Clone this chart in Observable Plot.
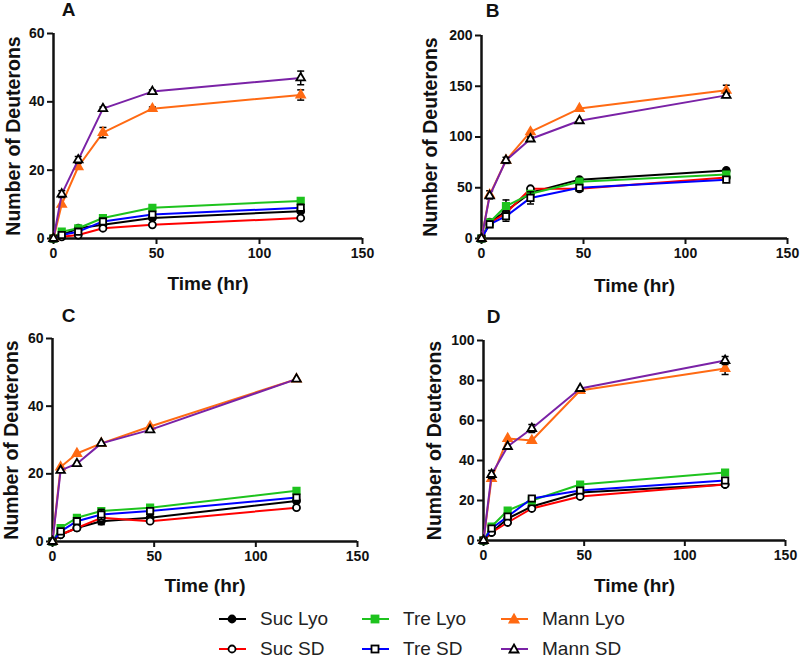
<!DOCTYPE html>
<html>
<head>
<meta charset="utf-8">
<script src="https://cdn.jsdelivr.net/npm/d3@7"></script>
<script src="https://cdn.jsdelivr.net/npm/@observablehq/plot@0.6"></script>
<style>
  body { margin: 0; background: white; }
  #wrap { position: relative; width: 800px; height: 660px; background: white; font-family: 'Liberation Sans', Arial, sans-serif; overflow: hidden; }
  .panel { position: absolute; width: 400px; height: 300px; }
  .leg { position: absolute; display: flex; align-items: center; font-size: 19px; line-height: 20px; height: 20px; color: #222; white-space: nowrap; }
  .leg svg { margin-right: 14px; display: block; }
</style>
</head>
<body>
<div id="wrap"></div>
<script>
// ---- data ----
const times = [0, 4, 12, 24, 48, 120];
const seriesNames = ["Suc Lyo", "Suc SD", "Tre Lyo", "Tre SD", "Mann Lyo", "Mann SD"];
const seriesColors = ["#000000", "#ff0000", "#1ec31e", "#0000ff", "#ff6a13", "#7a22a6"];
const seriesSymbols = ["circle", "circle", "square", "square", "triangle", "triangle"];
const seriesFills = ["#000000", "#ffffff", "#1ec31e", "#ffffff", "#ff6a13", "#ffffff"];
const seriesMarkerStrokes = ["#000000", "#000000", "#1ec31e", "#000000", "#ff6a13", "#000000"];

const valuesA = [
  [0, 1, 3, 4, 6, 8],
  [0, 0.5, 1, 3, 4, 6],
  [0, 2, 3, 6, 9, 11],
  [0, 1, 2, 5, 7, 9],
  [0, 10, 21, 31, 38, 42],
  [0, 13, 23, 38, 43, 47]
];
const errorsA = [
  [0, 0, 0, 0, 0.5, 0.5],
  [0, 0, 0, 0, 0, 0],
  [0, 0, 0, 0, 0, 0],
  [0, 0, 0, 0, 0, 1],
  [0, 0, 0, 1.5, 0.5, 1.5],
  [0, 1, 1, 0.5, 0.5, 2]
];
const valuesB = [
  [0, 16, 27, 45, 58, 67],
  [0, 15, 25, 49, 49, 60],
  [0, 16, 32, 44, 56, 63],
  [0, 14, 22, 40, 50, 58],
  [0, 43, 77, 105, 128, 146],
  [0, 42, 77, 98, 116, 141]
];
const errorsB = [
  [0, 0, 0, 0, 0, 2],
  [0, 0, 0, 0, 0, 0],
  [0, 0, 6, 0, 0, 0],
  [0, 3, 5, 6, 0, 0],
  [0, 4, 0, 0, 0, 5],
  [0, 0, 3, 2, 0, 2]
];
const valuesC = [
  [0, 2, 4, 6, 7, 12],
  [0, 2, 4, 7, 6, 10],
  [0, 4, 7, 9, 10, 15],
  [0, 3, 6, 8, 9, 13],
  [0, 22, 26, 29, 34, 48],
  [0, 21, 23, 29, 33, 48]
];
const errorsC = [
  [0, 0, 0, 1, 0, 0],
  [0, 0, 0, 0, 0, 0],
  [0, 0, 0, 0, 0, 0],
  [0, 0, 0, 1.5, 0, 0],
  [0, 0, 0, 0, 0, 0],
  [0, 0, 0, 0, 0, 0]
];
const valuesD = [
  [0, 4, 11, 17, 24, 28],
  [0, 4, 9, 16, 22, 28],
  [0, 7, 15, 20, 28, 34],
  [0, 6, 12, 21, 25, 30],
  [0, 31, 51, 50, 75, 86],
  [0, 33, 47, 56, 76, 90]
];
const errorsD = [
  [0, 0, 0, 0, 0, 0],
  [0, 0, 0, 0, 0, 0],
  [0, 0, 0, 0, 0, 0],
  [0, 0, 0, 1, 0, 0],
  [0, 0, 0, 0, 0, 3],
  [0, 2, 0, 2, 0, 2]
];
const xTicks = [0, 50, 100, 150];

// ---- drawing ----
const FONT = "'Liberation Sans', Arial, sans-serif";
const capSymbol = {
  draw(ctx, size) {
    const w = Math.sqrt(size / Math.PI);
    ctx.moveTo(-w, 0);
    ctx.lineTo(w, 0);
  }
};
const markerR = {circle: 3.5, square: 3.6, triangle: 3.2};

function makePanel(cfg) {
  const marks = [
    Plot.axisX({ticks: xTicks, tickSize: 6, tickPadding: 4, fontSize: 14, fontWeight: "bold", strokeWidth: 2, label: null}),
    Plot.axisY({ticks: cfg.yTicks, tickSize: 6, tickPadding: 3, fontSize: 14, fontWeight: "bold", strokeWidth: 2, label: null}),
    Plot.ruleX([0], {strokeWidth: 2.5}),
    Plot.ruleY([0], {strokeWidth: 2.5})
  ];
  seriesNames.forEach((name, i) => {
    const rows = times.map((t, j) => ({t, v: cfg.values[i][j], e: cfg.errors[i][j]}));
    const errRows = rows.filter(d => d.e > 0);
    marks.push(Plot.line(rows, {x: "t", y: "v", stroke: seriesColors[i], strokeWidth: 2}));
    marks.push(Plot.ruleX(errRows, {x: "t", y1: d => d.v - d.e, y2: d => d.v + d.e, stroke: "#000", strokeWidth: 1.5}));
    marks.push(Plot.dot(errRows, {x: "t", y: d => d.v - d.e, symbol: capSymbol, r: 3.5, stroke: "#000", strokeWidth: 1.5, fill: "none"}));
    marks.push(Plot.dot(errRows, {x: "t", y: d => d.v + d.e, symbol: capSymbol, r: 3.5, stroke: "#000", strokeWidth: 1.5, fill: "none"}));
    marks.push(Plot.dot(rows, {x: "t", y: "v", symbol: seriesSymbols[i], r: markerR[seriesSymbols[i]],
      fill: seriesFills[i], stroke: seriesMarkerStrokes[i], strokeWidth: 1.8}));
  });
  marks.push(Plot.text(["Time (hr)"], {text: d => d, frameAnchor: "bottom", dy: cfg.xLabelDy, fontSize: 19, fontWeight: "bold", lineAnchor: "middle", fill: "#111"}));
  marks.push(Plot.text(["Number of Deuterons"], {text: d => d, frameAnchor: "left", rotate: -90, dx: cfg.yLabelDx, fontSize: 19.5, fontWeight: "bold", lineAnchor: "middle", textAnchor: "middle", fill: "#111"}));
  marks.push(Plot.text([cfg.letter], {text: d => d, frameAnchor: "top-left", dx: cfg.letterDx, dy: cfg.letterDy, fontSize: 19, fontWeight: "bold", lineAnchor: "middle", textAnchor: "middle", fill: "#111"}));

  const chart = Plot.plot({
    width: 400, height: 300,
    marginLeft: cfg.m[0], marginRight: cfg.m[1], marginTop: cfg.m[2], marginBottom: cfg.m[3],
    x: {domain: [0, 150]},
    y: {domain: [0, cfg.yMax]},
    style: {fontFamily: FONT, fontSize: "14px", fontWeight: "bold", color: "#111", background: "white", overflow: "visible"},
    marks
  });
  const div = document.createElement("div");
  div.className = "panel";
  div.style.left = cfg.left + "px";
  div.style.top = cfg.top + "px";
  div.appendChild(chart);
  document.getElementById("wrap").appendChild(div);
}

makePanel({letter: "A", values: valuesA, errors: errorsA, yMax: 60, yTicks: [0, 20, 40, 60],
  m: [53, 38, 33, 62], left: 0, top: 0, xLabelDy: 45, yLabelDx: -40, letterDx: 15, letterDy: -24});
makePanel({letter: "B", values: valuesB, errors: errorsB, yMax: 200, yTicks: [0, 50, 100, 150, 200],
  m: [81, 13, 35, 62], left: 400, top: 0, xLabelDy: 47, yLabelDx: -51, letterDx: 11, letterDy: -25});
makePanel({letter: "C", values: valuesC, errors: errorsC, yMax: 60, yTicks: [0, 20, 40, 60],
  m: [52, 43, 38, 59], left: 0, top: 300, xLabelDy: 44, yLabelDx: -41, letterDx: 16, letterDy: -23});
makePanel({letter: "D", values: valuesD, errors: errorsD, yMax: 100, yTicks: [0, 20, 40, 60, 80, 100],
  m: [83, 15, 40, 60], left: 400, top: 300, xLabelDy: 45, yLabelDx: -49, letterDx: 10, letterDy: -24});

// ---- legend ----
const legendPos = [[219, 619], [219, 649], [362, 619], [362, 649], [501, 619], [501, 649]];
seriesNames.forEach((name, i) => {
  const item = document.createElement("div");
  item.className = "leg";
  item.style.left = legendPos[i][0] + "px";
  item.style.top = (legendPos[i][1] - 10) + "px";
  const c = seriesColors[i], f = seriesFills[i], s = seriesMarkerStrokes[i];
  let marker;
  if (seriesSymbols[i] === "circle") marker = `<circle cx="13" cy="10" r="3.5" fill="${f}" stroke="${s}" stroke-width="1.8"/>`;
  else if (seriesSymbols[i] === "square") marker = `<rect x="9.5" y="6.5" width="7" height="7" fill="${f}" stroke="${s}" stroke-width="1.8"/>`;
  else marker = `<path d="M13,5.5 L17.5,13.5 L8.5,13.5 Z" fill="${f}" stroke="${s}" stroke-width="1.8"/>`;
  item.innerHTML = `<svg width="27" height="20"><line x1="0" x2="27" y1="10" y2="10" stroke="${c}" stroke-width="2"/>${marker}</svg><span>${name}</span>`;
  document.getElementById("wrap").appendChild(item);
});
</script>
</body>
</html>
